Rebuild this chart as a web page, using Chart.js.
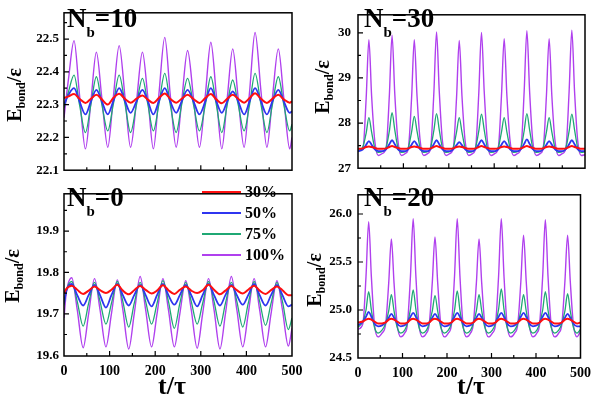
<!DOCTYPE html>
<html>
<head>
<meta charset="utf-8">
<script src="https://cdn.jsdelivr.net/npm/chart.js@4.4.1/dist/chart.umd.min.js"></script>
<style>
  body { margin: 0; width: 598px; height: 398px; background: #fff; position: relative; overflow: hidden;
         font-family: "Liberation Serif", "DejaVu Serif", serif; font-weight: bold; color: #000; }
  canvas { position: absolute; }
  .lbl { position: absolute; white-space: nowrap; line-height: 1; }
  .nb { font-size: 27px; }
  .nb .s { font-size: 15px; position: relative; top: 10px; }
  .yt { font-size: 20px; transform: translate(-50%, -50%) rotate(-90deg); }
  .yt .s { font-size: 12px; position: relative; top: 4px; }
  .xt { font-size: 26px; transform: translate(-50%, -50%); }
  .leg { position: absolute; height: 16px; font-size: 16px; line-height: 1; white-space: nowrap; }
  .leg i { position: absolute; left: 0; top: 7px; width: 39px; height: 1.6px; }
  .leg span { position: absolute; left: 43px; top: 0; }
</style>
</head>
<body>
<canvas id="c-tl" width="310" height="183" style="left:0;top:0"></canvas>
<canvas id="c-bl" width="310" height="217" style="left:0;top:181px"></canvas>
<canvas id="c-tr" width="298" height="183" style="left:300px;top:0"></canvas>
<canvas id="c-br" width="298" height="217" style="left:300px;top:181px"></canvas>

<div class="lbl nb" style="left:67px;top:5px">N<span class="s">b</span>=10</div>
<div class="lbl nb" style="left:67px;top:184px">N<span class="s">b</span>=0</div>
<div class="lbl nb" style="left:364px;top:5px">N<span class="s">b</span>=30</div>
<div class="lbl nb" style="left:364px;top:184px">N<span class="s">b</span>=20</div>

<div class="lbl yt" style="left:14px;top:95px">E<span class="s">bond</span>/ε</div>
<div class="lbl yt" style="left:12px;top:276px">E<span class="s">bond</span>/ε</div>
<div class="lbl yt" style="left:322px;top:87px">E<span class="s">bond</span>/ε</div>
<div class="lbl yt" style="left:314px;top:280px">E<span class="s">bond</span>/ε</div>

<div class="lbl xt" style="left:172px;top:386px">t/τ</div>
<div class="lbl xt" style="left:471px;top:386px">t/τ</div>

<div id="legend"></div>

<script>
// series names and colours (legend order)
const seriesNames = ["30%", "50%", "75%", "100%"];
const seriesColors = ["#ff1010", "#2f35f0", "#1fa874", "#b040ee"];
const seriesWidths = [2, 1.8, 1.3, 1.4];

// x axis
const xTicks = [0, 100, 200, 300, 400, 500];
const xLabels = ["0", "100", "200", "300", "400", "500"];

// y axis ticks per panel
const yTicksTL = [22.1, 22.2, 22.3, 22.4, 22.5];
const yLabelsTL = ["22.1", "22.2", "22.3", "22.4", "22.5"];
const yTicksBL = [19.6, 19.7, 19.8, 19.9];
const yLabelsBL = ["19.6", "19.7", "19.8", "19.9"];
const yTicksTR = [27, 28, 29, 30];
const yLabelsTR = ["27", "28", "29", "30"];
const yTicksBR = [24.5, 25.0, 25.5, 26.0];
const yLabelsBR = ["24.5", "25.0", "25.5", "26.0"];

// sample times (t/tau)
const tTop = [0, 10, 22, 34, 47, 59, 71, 83, 96, 108, 121, 134, 146, 159, 172, 184, 196, 208, 221, 233,
  246, 258, 271, 284, 297, 310, 322, 334, 346, 358, 370, 382, 395, 407, 419, 432, 445, 457, 470, 482, 495, 500];
const tBot = [0, 5, 17, 29, 42, 54, 67, 79, 92, 104, 117, 129, 142, 154, 167, 179, 192, 204, 217, 229,
  242, 254, 267, 279, 292, 304, 317, 329, 342, 354, 367, 379, 392, 404, 417, 429, 442, 454, 467, 479, 492, 500];
const tRight = [0, 11, 18,
  24, 30, 37, 45, 54, 62, 69,
  75, 81, 88, 96, 105, 111, 118,
  124, 130, 137, 145, 154, 160, 167,
  173, 179, 186, 194, 203, 210, 217,
  223, 229, 236, 244, 253, 259, 266,
  272, 278, 285, 293, 302, 309, 316,
  322, 328, 335, 343, 352, 359, 366,
  372, 378, 385, 393, 402, 408, 415,
  421, 427, 434, 442, 451, 458, 465,
  471, 477, 484, 492, 500];

// N_b = 10
const tl30 = [22.32, 22.325,
  22.332, 22.318, 22.305, 22.318, 22.33, 22.316, 22.30, 22.32, 22.333, 22.317, 22.306, 22.318,
  22.328, 22.315, 22.305, 22.32, 22.334, 22.318, 22.306, 22.318, 22.33, 22.317, 22.305, 22.32,
  22.332, 22.316, 22.304, 22.318, 22.33, 22.318, 22.306, 22.32, 22.335, 22.318, 22.305, 22.318,
  22.33, 22.316, 22.306, 22.31];
const tl50 = [22.30, 22.33,
  22.35, 22.31, 22.27, 22.31, 22.345, 22.31, 22.27, 22.31, 22.35, 22.31, 22.275, 22.31,
  22.345, 22.31, 22.27, 22.31, 22.35, 22.31, 22.275, 22.31, 22.345, 22.31, 22.27, 22.31,
  22.35, 22.31, 22.275, 22.31, 22.34, 22.31, 22.27, 22.31, 22.35, 22.31, 22.27, 22.31,
  22.345, 22.31, 22.275, 22.28];
const tl75 = [22.29, 22.34,
  22.39, 22.30, 22.215, 22.30, 22.385, 22.30, 22.22, 22.30, 22.39, 22.30, 22.215, 22.30,
  22.38, 22.30, 22.22, 22.30, 22.395, 22.30, 22.215, 22.30, 22.38, 22.30, 22.22, 22.30,
  22.385, 22.30, 22.215, 22.30, 22.375, 22.30, 22.22, 22.30, 22.395, 22.30, 22.215, 22.30,
  22.385, 22.30, 22.22, 22.24];
const tl100 = [22.26, 22.38,
  22.495, 22.33, 22.165, 22.31, 22.46, 22.32, 22.17, 22.32, 22.48, 22.32, 22.17, 22.31,
  22.46, 22.32, 22.165, 22.33, 22.505, 22.33, 22.17, 22.31, 22.465, 22.32, 22.17, 22.33,
  22.49, 22.33, 22.165, 22.32, 22.47, 22.32, 22.17, 22.34, 22.52, 22.34, 22.17, 22.32,
  22.47, 22.32, 22.165, 22.20];

// N_b = 0
const bl30 = [19.75, 19.76,
  19.768, 19.758, 19.748, 19.756, 19.766, 19.757, 19.75, 19.758, 19.77, 19.756, 19.747, 19.757,
  19.767, 19.758, 19.749, 19.756, 19.769, 19.757, 19.748, 19.758, 19.766, 19.756, 19.75, 19.757,
  19.77, 19.758, 19.747, 19.756, 19.767, 19.757, 19.749, 19.758, 19.768, 19.756, 19.748, 19.757,
  19.766, 19.757, 19.745, 19.745];
const bl50 = [19.725, 19.755,
  19.772, 19.745, 19.72, 19.745, 19.77, 19.745, 19.715, 19.745, 19.772, 19.745, 19.72, 19.745,
  19.77, 19.745, 19.718, 19.745, 19.772, 19.745, 19.722, 19.745, 19.77, 19.745, 19.718, 19.745,
  19.772, 19.745, 19.72, 19.745, 19.77, 19.745, 19.722, 19.745, 19.772, 19.745, 19.72, 19.745,
  19.77, 19.745, 19.718, 19.722];
const bl75 = [19.72, 19.755,
  19.778, 19.73, 19.67, 19.725, 19.776, 19.73, 19.675, 19.725, 19.778, 19.73, 19.668, 19.725,
  19.776, 19.73, 19.675, 19.725, 19.78, 19.73, 19.665, 19.725, 19.776, 19.73, 19.675, 19.725,
  19.778, 19.73, 19.67, 19.725, 19.776, 19.73, 19.668, 19.725, 19.778, 19.73, 19.672, 19.725,
  19.776, 19.73, 19.662, 19.69];
const bl100 = [19.69, 19.75,
  19.787, 19.71, 19.618, 19.70, 19.785, 19.71, 19.62, 19.70, 19.782, 19.71, 19.615, 19.70,
  19.79, 19.71, 19.62, 19.70, 19.785, 19.71, 19.62, 19.70, 19.78, 19.71, 19.617, 19.70,
  19.785, 19.71, 19.615, 19.70, 19.79, 19.71, 19.62, 19.70, 19.785, 19.71, 19.62, 19.70,
  19.78, 19.71, 19.622, 19.665];

// N_b = 30
const tr30 = [27.43, 27.44, 27.47,
  27.48, 27.47, 27.45, 27.43, 27.43, 27.44, 27.47,
  27.49, 27.47, 27.45, 27.43, 27.43, 27.44, 27.47,
  27.48, 27.47, 27.45, 27.43, 27.43, 27.44, 27.47,
  27.49, 27.47, 27.45, 27.43, 27.43, 27.44, 27.47,
  27.48, 27.47, 27.45, 27.43, 27.43, 27.44, 27.47,
  27.49, 27.47, 27.45, 27.43, 27.43, 27.44, 27.47,
  27.48, 27.47, 27.45, 27.43, 27.43, 27.44, 27.47,
  27.49, 27.47, 27.45, 27.43, 27.43, 27.44, 27.47,
  27.48, 27.47, 27.45, 27.43, 27.43, 27.44, 27.47,
  27.49, 27.47, 27.45, 27.43, 27.43];
const tr50 = [27.37, 27.42, 27.52,
  27.6, 27.52, 27.42, 27.38, 27.38, 27.42, 27.53,
  27.62, 27.53, 27.42, 27.38, 27.38, 27.42, 27.52,
  27.6, 27.52, 27.42, 27.38, 27.38, 27.42, 27.53,
  27.62, 27.53, 27.42, 27.38, 27.38, 27.42, 27.51,
  27.58, 27.51, 27.42, 27.38, 27.38, 27.42, 27.53,
  27.62, 27.53, 27.42, 27.38, 27.38, 27.42, 27.52,
  27.6, 27.52, 27.42, 27.38, 27.38, 27.42, 27.54,
  27.64, 27.54, 27.42, 27.38, 27.38, 27.42, 27.52,
  27.6, 27.52, 27.42, 27.38, 27.38, 27.42, 27.53,
  27.62, 27.53, 27.42, 27.38, 27.38];
const tr75 = [27.38, 27.48, 27.78,
  28.12, 27.8, 27.45, 27.35, 27.37, 27.46, 27.82,
  28.23, 27.85, 27.45, 27.35, 27.37, 27.46, 27.8,
  28.15, 27.82, 27.45, 27.35, 27.37, 27.46, 27.83,
  28.21, 27.85, 27.45, 27.35, 27.37, 27.46, 27.8,
  28.12, 27.8, 27.45, 27.35, 27.37, 27.46, 27.82,
  28.2, 27.85, 27.45, 27.35, 27.37, 27.46, 27.8,
  28.12, 27.8, 27.45, 27.35, 27.37, 27.46, 27.83,
  28.21, 27.85, 27.45, 27.35, 27.37, 27.46, 27.8,
  28.12, 27.8, 27.45, 27.35, 27.37, 27.46, 27.82,
  28.2, 27.85, 27.45, 27.35, 27.36];
const tr100 = [27.40, 27.45, 28.55,
  29.85, 28.6, 27.6, 27.28, 27.33, 27.45, 28.6,
  29.95, 28.65, 27.6, 27.28, 27.33, 27.45, 28.55,
  29.85, 28.6, 27.6, 27.28, 27.33, 27.45, 28.65,
  30.02, 28.7, 27.6, 27.28, 27.33, 27.45, 28.55,
  29.83, 28.6, 27.6, 27.28, 27.33, 27.45, 28.65,
  30.01, 28.7, 27.6, 27.28, 27.33, 27.45, 28.6,
  29.87, 28.6, 27.6, 27.28, 27.33, 27.45, 28.7,
  30.05, 28.7, 27.6, 27.28, 27.33, 27.45, 28.6,
  29.87, 28.6, 27.6, 27.28, 27.33, 27.45, 28.7,
  30.06, 28.7, 27.6, 27.28, 27.30];

// N_b = 20
const br30 = [24.87, 24.88, 24.9,
  24.91, 24.9, 24.88, 24.86, 24.86, 24.87, 24.9,
  24.91, 24.9, 24.88, 24.86, 24.86, 24.87, 24.9,
  24.91, 24.9, 24.88, 24.86, 24.86, 24.87, 24.9,
  24.91, 24.9, 24.88, 24.86, 24.86, 24.87, 24.9,
  24.91, 24.9, 24.88, 24.86, 24.86, 24.87, 24.9,
  24.91, 24.9, 24.88, 24.86, 24.86, 24.87, 24.9,
  24.91, 24.9, 24.88, 24.86, 24.86, 24.87, 24.9,
  24.91, 24.9, 24.88, 24.86, 24.86, 24.87, 24.9,
  24.91, 24.9, 24.88, 24.86, 24.86, 24.87, 24.9,
  24.91, 24.9, 24.88, 24.86, 24.87];
const br50 = [24.84, 24.88, 24.93,
  24.98, 24.93, 24.86, 24.83, 24.84, 24.87, 24.92,
  24.96, 24.92, 24.86, 24.83, 24.84, 24.87, 24.93,
  24.97, 24.93, 24.86, 24.83, 24.84, 24.87, 24.92,
  24.96, 24.92, 24.86, 24.83, 24.84, 24.87, 24.93,
  24.97, 24.93, 24.86, 24.83, 24.84, 24.87, 24.92,
  24.96, 24.92, 24.86, 24.83, 24.84, 24.87, 24.93,
  24.97, 24.93, 24.86, 24.83, 24.84, 24.87, 24.93,
  24.97, 24.93, 24.86, 24.83, 24.84, 24.87, 24.93,
  24.97, 24.93, 24.86, 24.83, 24.84, 24.87, 24.92,
  24.96, 24.92, 24.86, 24.83, 24.83];
const br75 = [24.82, 24.88, 25.0,
  25.19, 25.0, 24.82, 24.76, 24.79, 24.86, 24.99,
  25.16, 24.99, 24.82, 24.76, 24.79, 24.86, 25.01,
  25.21, 25.01, 24.82, 24.76, 24.79, 24.86, 24.99,
  25.15, 24.99, 24.82, 24.76, 24.79, 24.86, 25.0,
  25.2, 25.0, 24.82, 24.76, 24.79, 24.86, 24.99,
  25.16, 24.99, 24.82, 24.76, 24.79, 24.86, 25.01,
  25.22, 25.01, 24.82, 24.76, 24.79, 24.86, 24.99,
  25.16, 24.99, 24.82, 24.76, 24.79, 24.86, 25.0,
  25.19, 25.0, 24.82, 24.76, 24.79, 24.86, 24.99,
  25.17, 24.99, 24.82, 24.76, 24.8];
const br100 = [24.80, 24.86, 25.35,
  25.92, 25.35, 24.85, 24.72, 24.76, 24.85, 25.28,
  25.74, 25.28, 24.85, 24.72, 24.76, 24.85, 25.36,
  25.95, 25.36, 24.85, 24.72, 24.76, 24.85, 25.29,
  25.76, 25.29, 24.85, 24.72, 24.76, 24.85, 25.36,
  25.95, 25.36, 24.85, 24.72, 24.76, 24.85, 25.28,
  25.74, 25.28, 24.85, 24.72, 24.76, 24.85, 25.36,
  25.95, 25.36, 24.85, 24.72, 24.76, 24.85, 25.3,
  25.78, 25.3, 24.85, 24.72, 24.76, 24.85, 25.35,
  25.94, 25.35, 24.85, 24.72, 24.76, 24.85, 25.3,
  25.78, 25.3, 24.85, 24.72, 24.78];

// frame + inward tick marks (Origin style)
const inwardTicks = {
  id: 'inwardTicks',
  afterDraw(chart, args, o) {
    const { ctx, chartArea: a } = chart;
    const x = chart.scales.x, y = chart.scales.y;
    const mark = (vals, len, horiz) => {
      vals.forEach(v => {
        if (horiz) {
          const p = x.getPixelForValue(v);
          if (p <= a.left + 1 || p >= a.right - 1) return;
          ctx.moveTo(p, a.bottom); ctx.lineTo(p, a.bottom - len);
        } else {
          const p = y.getPixelForValue(v);
          if (p <= a.top + 1 || p >= a.bottom - 1) return;
          ctx.moveTo(a.left, p); ctx.lineTo(a.left + len, p);
        }
      });
    };
    const halves = (ticks, lo, hi) => {
      const step = ticks[1] - ticks[0];
      const out = [];
      for (let v = ticks[0] - step / 2; v < hi; v += step) if (v > lo) out.push(v);
      return out;
    };
    ctx.save();
    ctx.strokeStyle = '#000';
    ctx.lineWidth = 1.2;
    ctx.beginPath();
    mark(xTicks, 5, true);
    mark(halves(xTicks, x.min, x.max), 3, true);
    mark(o.yTicks, 5, false);
    mark(halves(o.yTicks, y.min, y.max), 3, false);
    ctx.stroke();
    ctx.lineWidth = 1.5;
    ctx.strokeRect(a.left, a.top, a.right - a.left, a.bottom - a.top);
    ctx.restore();
  }
};

const tickFont = { family: "'Liberation Serif', serif", weight: 'bold', size: 14 };

function makePanel(id, times, values, y, box) {
  const datasets = values.map((vals, i) => ({
    label: seriesNames[i],
    data: times.map((t, j) => ({ x: t, y: vals[j] })),
    borderColor: seriesColors[i],
    borderWidth: seriesWidths[i],
    pointRadius: 0,
    fill: false,
    cubicInterpolationMode: 'monotone'
  }));
  return new Chart(document.getElementById(id), {
    type: 'line',
    data: { datasets },
    plugins: [inwardTicks],
    options: {
      responsive: false,
      animation: false,
      devicePixelRatio: 1,
      events: [],
      layout: { padding: box.pad },
      plugins: { legend: { display: false }, tooltip: { enabled: false }, inwardTicks: { yTicks: y.ticks } },
      scales: {
        x: {
          type: 'linear', min: 0, max: 500,
          display: box.showX,
          grid: { display: false, drawTicks: false },
          border: { display: false },
          afterBuildTicks: s => { s.ticks = xTicks.map(v => ({ value: v })); },
          afterFit: s => { s.height = box.xHeight; },
          ticks: { autoSkip: false, maxRotation: 0, padding: 7, color: '#000', font: tickFont,
                   callback: (v, i) => xLabels[i] }
        },
        y: {
          type: 'linear', min: y.min, max: y.max,
          grid: { display: false, drawTicks: false },
          border: { display: false },
          afterBuildTicks: s => { s.ticks = y.ticks.map(v => ({ value: v })); },
          afterFit: s => { s.width = box.yWidth; },
          ticks: { autoSkip: false, padding: box.yPad, color: '#000', font: { ...tickFont, size: 13 },
                   callback: (v, i) => y.labels[i] }
        }
      }
    }
  });
}

// dataset order: red first so it sits on top
makePanel('c-tl', tTop, [tl30, tl50, tl75, tl100],
  { min: 22.1, max: 22.58, ticks: yTicksTL, labels: yLabelsTL },
  { showX: false, yWidth: 64, xHeight: 0, yPad: 5, pad: { left: 0, top: 2, right: 18, bottom: 2 } });
makePanel('c-bl', tBot, [bl30, bl50, bl75, bl100],
  { min: 19.598, max: 19.99, ticks: yTicksBL, labels: yLabelsBL },
  { showX: true, yWidth: 64, xHeight: 42, yPad: 5, pad: { left: 0, top: 0, right: 18, bottom: 0 } });
makePanel('c-tr', tRight, [tr30, tr50, tr75, tr100],
  { min: 27, max: 30.4, ticks: yTicksTR, labels: yLabelsTR },
  { showX: false, yWidth: 58, xHeight: 0, yPad: 7, pad: { left: 0, top: 2, right: 13, bottom: 2 } });
makePanel('c-br', tRight, [br30, br50, br75, br100],
  { min: 24.5, max: 26.2, ticks: yTicksBR, labels: yLabelsBR },
  { showX: true, yWidth: 58, xHeight: 40, yPad: 6, pad: { left: 0, top: 0, right: 13, bottom: 0 } });

// legend inside the N_b=0 panel
const legendRows = [192, 213, 234, 255];
const legend = document.getElementById('legend');
seriesNames.forEach((name, i) => {
  const row = document.createElement('div');
  row.className = 'leg';
  row.style.left = '202px';
  row.style.top = (legendRows[i] - 8) + 'px';
  row.innerHTML = `<i style="background:${seriesColors[i]}"></i><span>${name}</span>`;
  legend.appendChild(row);
});
</script>
</body>
</html>
